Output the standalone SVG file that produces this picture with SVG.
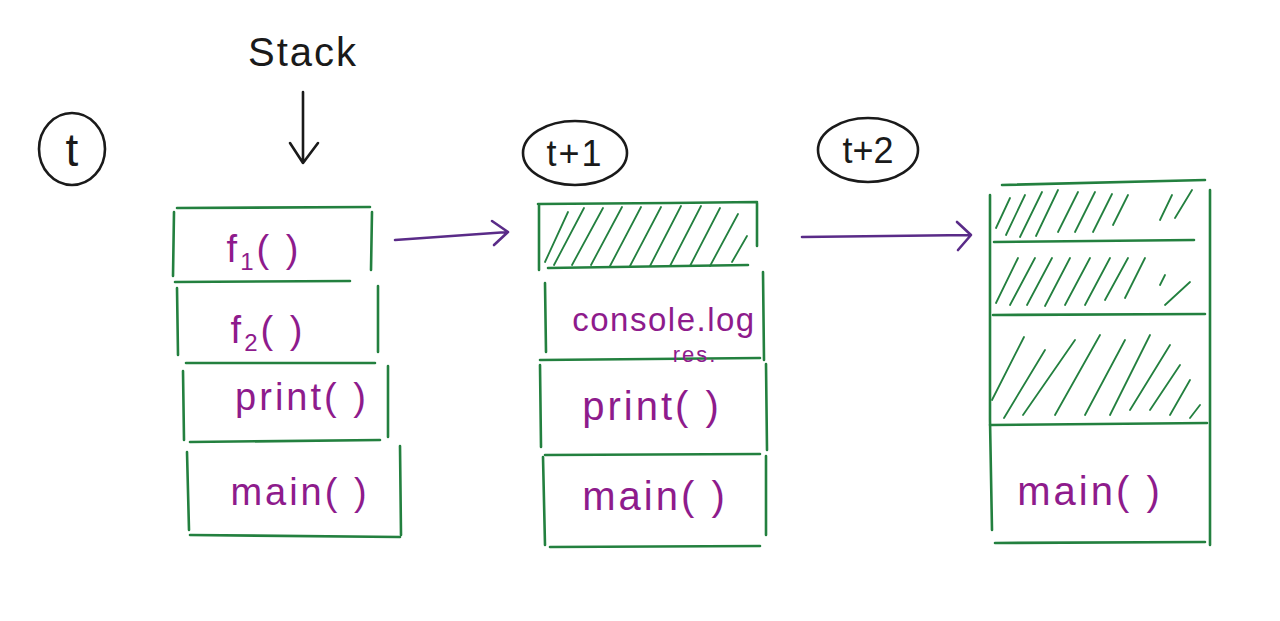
<svg xmlns="http://www.w3.org/2000/svg" width="1280" height="621" viewBox="0 0 1280 621">
<style>
.g{fill:none;stroke:#23803f;stroke-width:2.6;stroke-linecap:round;stroke-linejoin:round}
.h{fill:none;stroke:#23803f;stroke-width:1.8;stroke-linecap:round}
.k{fill:none;stroke:#1a1a1a;stroke-width:2.6;stroke-linecap:round;stroke-linejoin:round}
.a{fill:none;stroke:#5a2b88;stroke-width:2.6;stroke-linecap:round;stroke-linejoin:round}
.lbl{font-family:"Liberation Sans",Arial,sans-serif;fill:#8e1b8c}
.blk{font-family:"Liberation Sans",Arial,sans-serif;fill:#1a1a1a}
</style>
<rect width="1280" height="621" fill="#ffffff"/>

<g id="label-stack">
<text class="blk" x="303" y="66" font-size="40" text-anchor="middle" letter-spacing="2">Stack</text>
<path class="k" d="M303 92 L303 163 M290 143 L303 163 L318 143"/>
</g>

<g id="time-t">
<ellipse class="k" cx="72" cy="149" rx="33" ry="36"/>
<text class="blk" x="72" y="166" font-size="46" text-anchor="middle">t</text>
</g>
<g id="time-t1">
<ellipse class="k" cx="575" cy="153" rx="52" ry="32"/>
<text class="blk" x="575" y="166" font-size="36" text-anchor="middle" letter-spacing="2">t+1</text>
</g>
<g id="time-t2">
<ellipse class="k" cx="868" cy="150" rx="50" ry="32"/>
<text class="blk" x="868" y="163" font-size="36" text-anchor="middle">t+2</text>
</g>

<g id="stack-t">
<g id="t-f1">
<path class="g" d="M177 208 L370 207 M174 212 L173 276 M372 212 L371 270 M175 282 L350 281"/>
<text class="lbl" x="264" y="262" font-size="38" letter-spacing="3" text-anchor="middle">f<tspan font-size="24" dy="8">1</tspan><tspan dy="-8">( )</tspan></text>
</g>
<g id="t-f2">
<path class="g" d="M177 288 L178 355 M378 286 L378 352 M186 363 L375 363"/>
<text class="lbl" x="268" y="343" font-size="38" letter-spacing="3" text-anchor="middle">f<tspan font-size="24" dy="8">2</tspan><tspan dy="-8">( )</tspan></text>
</g>
<g id="t-print">
<path class="g" d="M183 371 L184 440 M388 366 L388 437 M190 442 L380 440"/>
<text class="lbl" x="302" y="410" font-size="38" letter-spacing="3" text-anchor="middle">print( )</text>
</g>
<g id="t-main">
<path class="g" d="M187 452 L189 530 M400 446 L401 535 M190 535 L400 537"/>
<text class="lbl" x="300" y="505" font-size="38" letter-spacing="3" text-anchor="middle">main( )</text>
</g>
</g>

<g id="stack-t1">
<g id="t1-empty">
<path class="g" d="M538 204 L670 203 L757 202 M539 205 L539 270 M757 203 L757 246 M548 268 L748 265"/>
<path class="h" d="M545 262 L568 212 M554 265 L584 208 M572 265 L603 208 M591 265 L622 207 M610 266 L641 207 M630 266 L661 207 M650 266 L681 206 M670 266 L701 206 M690 266 L720 208 M710 266 L738 214 M732 262 L747 236"/>
</g>
<g id="t1-console">
<path class="g" d="M545 283 L546 352 M763 272 L764 360 M540 360 L760 358"/>
<text class="lbl" x="664" y="331" font-size="33" letter-spacing="1.5" text-anchor="middle">console.log</text>
<text class="lbl" x="695" y="362" font-size="22" letter-spacing="2" text-anchor="middle">res.</text>
</g>
<g id="t1-print">
<path class="g" d="M540 365 L541 447 M766 364 L767 450 M545 455 L760 454"/>
<text class="lbl" x="652" y="420" font-size="40" letter-spacing="3" text-anchor="middle">print( )</text>
</g>
<g id="t1-main">
<path class="g" d="M543 457 L545 545 M766 456 L766 535 M550 547 L760 546"/>
<text class="lbl" x="655" y="510" font-size="40" letter-spacing="3" text-anchor="middle">main( )</text>
</g>
</g>

<g id="stack-t2">
<path class="g" d="M1002 185 L1205 180 M990 195 L990 420 L992 530 M1210 190 L1210 545 M995 543 L1205 542"/>
<g id="t2-empty1">
<path class="g" d="M994 242 L1194 240"/>
<path class="h" d="M996 228 L1010 198 M1006 235 L1025 195 M1020 237 L1042 192 M1036 236 L1058 190 M1058 232 L1078 192 M1075 232 L1095 192 M1093 232 L1112 194 M1113 225 L1128 195 M1160 220 L1172 195 M1175 218 L1192 190"/>
</g>
<g id="t2-empty2">
<path class="g" d="M993 315 L1205 314"/>
<path class="h" d="M996 303 L1018 258 M1010 305 L1035 258 M1027 305 L1052 258 M1045 306 L1070 258 M1065 305 L1090 258 M1085 305 L1110 258 M1105 300 L1128 258 M1125 298 L1145 258 M1160 285 L1165 275 M1165 305 L1190 282"/>
</g>
<g id="t2-empty3">
<path class="g" d="M990 425 L1207 423"/>
<path class="h" d="M992 400 L1024 337 M1004 418 L1045 350 M1023 415 L1075 340 M1055 415 L1100 335 M1085 415 L1125 340 M1110 415 L1150 335 M1130 410 L1170 345 M1150 410 L1180 365 M1170 415 L1190 380 M1190 418 L1200 405"/>
</g>
<g id="t2-main">
<text class="lbl" x="1090" y="505" font-size="40" letter-spacing="3" text-anchor="middle">main( )</text>
</g>
</g>

<g id="connectors">
<path class="a" d="M395 240 L508 232 M492 221 L508 232 L494 245"/>
<path class="a" d="M802 237 L970 235 M957 222 L971 235 L958 250"/>
</g>
</svg>
